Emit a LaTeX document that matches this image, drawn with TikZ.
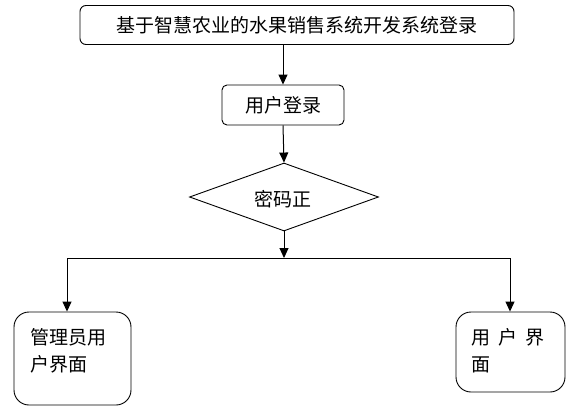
\documentclass[tikz,border=0pt]{standalone}
\usepackage{fontspec}
\setmainfont{Noto Sans CJK SC}
\usetikzlibrary{shapes.geometric, arrows.meta}

\begin{document}
\begin{tikzpicture}[
  x=1pt, y=-1pt,
  every node/.style={font=\fontsize{19pt}{27pt}\selectfont, inner sep=0pt},
  panel/.style={draw, line width=0.9pt, rounded corners=#1},
  panel/.default=6pt,
  arr/.style={line width=1pt, -{Triangle[length=10pt,width=9pt]}},
  wire/.style={line width=1pt}
]
\useasboundingbox (0,0) rectangle (586,417);

\node[panel, minimum width=434, minimum height=39] (title) at (297,25) {基于智慧农业的水果销售系统开发系统登录};
\node[panel=5pt, minimum width=122, minimum height=40] (login) at (283,105) {用户登录};
\node[draw, line width=0.9pt, diamond, minimum width=189, minimum height=68] (check) at (284,197) {};
\node at (283,199) {密码正};
\coordinate (split) at (284,258);
\coordinate (left) at (67,258);
\coordinate (right) at (510,258);

\node[panel=15pt, minimum width=117, minimum height=93] (admin) at (72.5,358.5) {};
\node[panel=15pt, minimum width=109, minimum height=80] (user) at (510.5,352) {};
\node[anchor=north west, align=left] (adminlabel) at ([shift={(17,17)}]admin.north west) {管理员用\\户界面};
\node[anchor=north west, align=left] (userlabel) at ([shift={(16,17)}]user.north west) {用\hspace{8pt}户\hspace{8pt}界\\面};

\draw[arr] (title.south -| login.north) -- (login.north);
\draw[arr] (login.south) -- (check.north);
\draw[arr] (check.south) -- (split);
\draw[wire] (left) -- (right);
\draw[arr] (left) -- (left |- admin.north);
\draw[arr] (right) -- (right |- user.north);
\end{tikzpicture}
\end{document}
